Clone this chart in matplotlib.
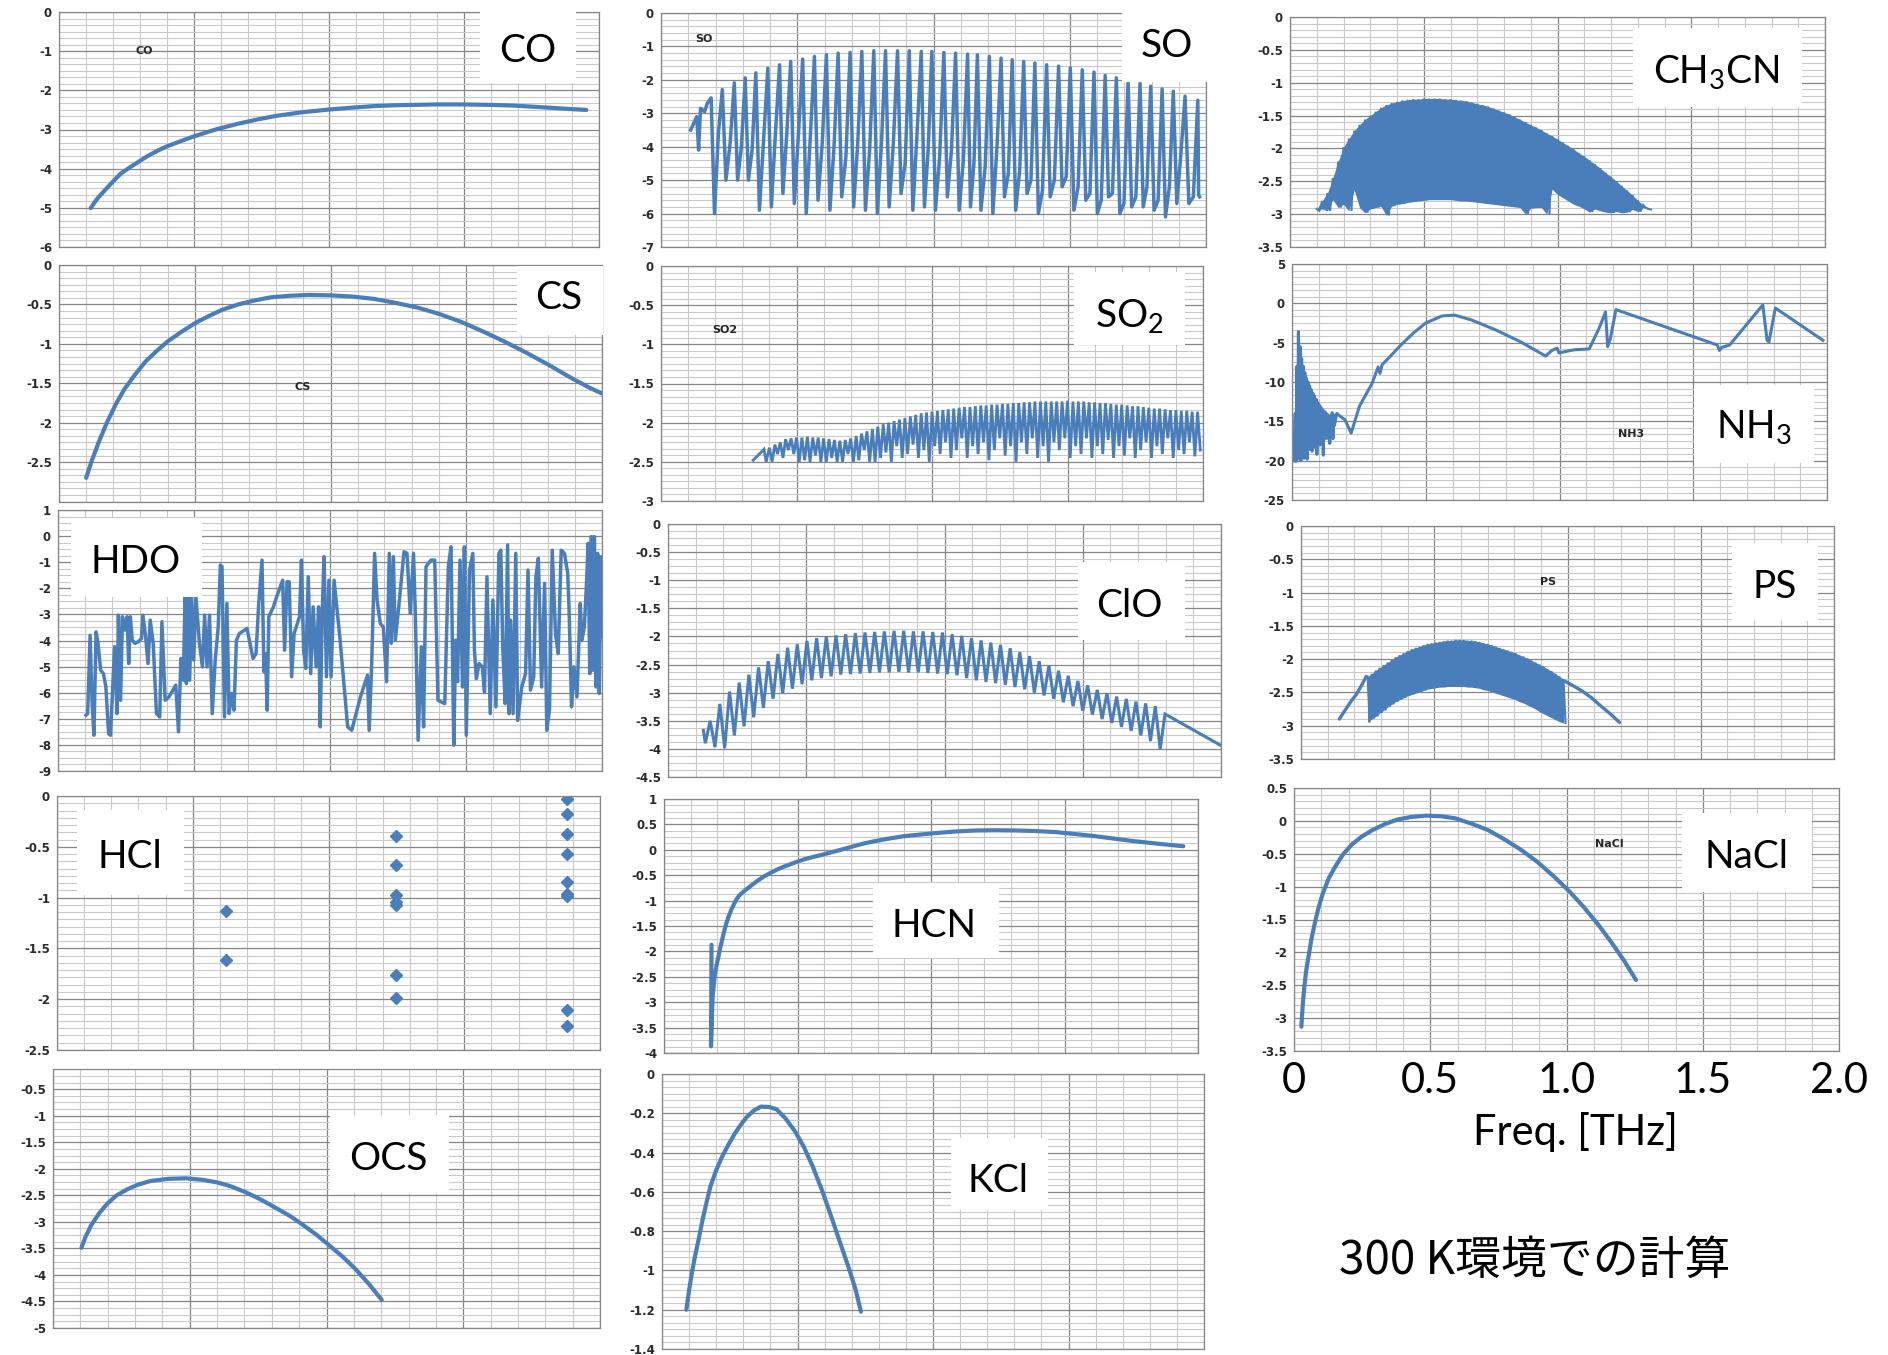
import matplotlib
matplotlib.use("Agg")
import matplotlib.pyplot as plt
from matplotlib.patches import Rectangle
from matplotlib.ticker import MultipleLocator, FuncFormatter, NullFormatter

plt.rcParams["mathtext.fontset"] = "custom"
plt.rcParams["mathtext.rm"] = "Lato"
plt.rcParams["mathtext.default"] = "regular"

W, H = 1888, 1355
BLUE = "#4a7ebb"
BIG_FONT = "Lato"

# ---------------- spectra: frequency [THz] vs log10 intensity ----------------
co_f = [0.117, 0.14, 0.17, 0.205, 0.23, 0.264, 0.30, 0.33, 0.36, 0.396, 0.45, 0.502,
        0.58, 0.659, 0.73, 0.806, 0.90, 1.00, 1.09, 1.172, 1.25, 1.319, 1.40, 1.495,
        1.59, 1.685, 1.76, 1.832, 1.90, 1.953]
co_v = [-5.01, -4.78, -4.55, -4.29, -4.12, -3.96, -3.80, -3.67, -3.56, -3.44, -3.30, -3.17,
        -3.00, -2.86, -2.75, -2.65, -2.56, -2.49, -2.44, -2.40, -2.38, -2.37, -2.36, -2.36,
        -2.37, -2.39, -2.42, -2.45, -2.48, -2.50]

cs_f = [0.10, 0.12, 0.146, 0.175, 0.21, 0.24, 0.28, 0.32, 0.36, 0.40, 0.45, 0.50, 0.55,
        0.60, 0.66, 0.72, 0.78, 0.85, 0.92, 1.00, 1.08, 1.16, 1.24, 1.32, 1.40, 1.48,
        1.56, 1.64, 1.72, 1.80, 1.88, 1.95, 2.0]
cs_v = [-2.70, -2.49, -2.25, -2.01, -1.76, -1.58, -1.39, -1.22, -1.09, -0.97, -0.85, -0.74,
        -0.65, -0.57, -0.50, -0.45, -0.41, -0.39, -0.38, -0.385, -0.40, -0.43, -0.48, -0.54,
        -0.62, -0.72, -0.84, -0.97, -1.11, -1.26, -1.42, -1.55, -1.63]

# SO: line peaks, the dip after each line and the shoulder before the next one
so_head_f = [0.109, 0.131, 0.138, 0.145, 0.160, 0.170]
so_head_v = [-3.5, -3.1, -4.1, -2.85, -2.95, -2.7]
so_peak_f = [0.184, 0.225, 0.269, 0.309, 0.348, 0.392, 0.435, 0.476, 0.520, 0.563,
             0.607, 0.650, 0.694, 0.737, 0.781, 0.824, 0.868, 0.911, 0.955, 0.994,
             1.038, 1.081, 1.125, 1.161, 1.205, 1.248, 1.289, 1.331, 1.372, 1.415,
             1.459, 1.502, 1.546, 1.589, 1.630, 1.671, 1.714, 1.758, 1.797, 1.839,
             1.880, 1.923, 1.970]
so_peak_v = [-2.54, -2.29, -2.09, -1.94, -1.79, -1.65, -1.55, -1.45, -1.38, -1.30,
             -1.25, -1.20, -1.18, -1.15, -1.13, -1.13, -1.13, -1.13, -1.15, -1.15,
             -1.18, -1.20, -1.23, -1.25, -1.30, -1.35, -1.40, -1.45, -1.50, -1.55,
             -1.59, -1.64, -1.70, -1.77, -1.87, -1.94, -2.04, -2.11, -2.19, -2.27,
             -2.34, -2.49, -2.61]
so_dip_v = [-6.0, -5.0, -5.0, -5.0, -5.9, -5.8, -5.4, -5.7, -6.0, -5.6,
            -5.9, -5.5, -5.8, -5.9, -6.0, -5.8, -5.4, -5.9, -5.8, -5.9,
            -5.5, -5.9, -5.8, -5.9, -6.0, -5.5, -5.9, -5.4, -6.0, -5.5,
            -5.2, -5.9, -5.6, -6.0, -5.5, -6.0, -5.8, -5.8, -5.9, -6.1,
            -5.7, -5.7, -5.45]
so_mid_v = [-3.6, -3.9, -4.0, -4.1, -3.8, -3.6, -3.6, -3.6, -3.7, -3.9,
            -4.0, -4.3, -3.9, -4.1, -3.9, -3.9, -4.5, -3.6, -4.1, -4.3,
            -4.1, -4.4, -4.5, -4.6, -4.0, -4.8, -4.7, -5.0, -5.3, -5.0,
            -4.9, -5.2, -5.4, -5.6, -5.4, -5.7, -5.5, -5.2, -5.6, -5.2,
            -4.2, -5.5, -5.5]

ch3cn_f = [0.10, 0.12, 0.14, 0.16, 0.18, 0.20, 0.22, 0.24, 0.26, 0.28, 0.30, 0.32,
           0.34, 0.36, 0.38, 0.40, 0.42, 0.44, 0.46, 0.48, 0.50, 0.52, 0.54, 0.56,
           0.58, 0.60, 0.62, 0.64, 0.66, 0.68, 0.70, 0.72, 0.74, 0.76, 0.78, 0.80,
           0.82, 0.84, 0.86, 0.88, 0.90, 0.92, 0.94, 0.96, 0.98, 1.00, 1.02, 1.04,
           1.06, 1.08, 1.10, 1.12, 1.14, 1.16, 1.18, 1.20, 1.22, 1.24, 1.26, 1.28,
           1.30, 1.32, 1.34]
ch3cn_hi = [-2.92, -2.80, -2.68, -2.45, -2.20, -1.98, -1.85, -1.73, -1.64, -1.56,
            -1.50, -1.44, -1.38, -1.34, -1.31, -1.29, -1.27, -1.26, -1.25, -1.25,
            -1.24, -1.24, -1.24, -1.24, -1.25, -1.25, -1.26, -1.27, -1.28, -1.30,
            -1.32, -1.34, -1.36, -1.39, -1.42, -1.45, -1.48, -1.52, -1.56, -1.60,
            -1.64, -1.68, -1.72, -1.77, -1.81, -1.86, -1.91, -1.96, -2.01, -2.07,
            -2.12, -2.18, -2.24, -2.30, -2.37, -2.43, -2.50, -2.57, -2.64, -2.71,
            -2.79, -2.86, -2.92]
ch3cn_lo = [-2.95, -2.92, -2.95, -2.78, -2.90, -2.85, -2.95, -2.63, -2.90, -2.98,
            -2.92, -2.90, -2.88, -3.02, -2.88, -2.85, -2.84, -2.82, -2.81, -2.80,
            -2.79, -2.78, -2.78, -2.78, -2.78, -2.78, -2.79, -2.80, -2.80, -2.81,
            -2.82, -2.83, -2.84, -2.85, -2.86, -2.87, -2.88, -2.89, -2.90, -3.00,
            -2.91, -2.90, -2.90, -3.00, -2.62, -2.70, -2.75, -2.80, -2.85, -2.88,
            -2.92, -2.97, -2.92, -2.95, -2.97, -2.98, -2.96, -2.98, -2.97, -2.93,
            -2.96, -2.90, -2.93]

so2_head_f = [0.340, 0.380, 0.388]
so2_head_v = [-2.48, -2.34, -2.50]
so2_f = [0.40, 0.42, 0.44, 0.46, 0.48, 0.50, 0.52, 0.54, 0.56, 0.58,
         0.60, 0.62, 0.64, 0.66, 0.68, 0.70, 0.72, 0.74, 0.76, 0.78,
         0.80, 0.82, 0.84, 0.86, 0.88, 0.90, 0.92, 0.94, 0.96, 0.98,
         1.00, 1.02, 1.04, 1.06, 1.08, 1.10, 1.12, 1.14, 1.16, 1.18,
         1.20, 1.22, 1.24, 1.26, 1.28, 1.30, 1.32, 1.34, 1.36, 1.38,
         1.40, 1.42, 1.44, 1.46, 1.48, 1.50, 1.52, 1.54, 1.56, 1.58,
         1.60, 1.62, 1.64, 1.66, 1.68, 1.70, 1.72, 1.74, 1.76, 1.78,
         1.80, 1.82, 1.84, 1.86, 1.88, 1.90, 1.92, 1.94, 1.96, 1.98]
so2_hi = [-2.32, -2.28, -2.25, -2.21, -2.20, -2.19, -2.19, -2.18, -2.19, -2.19,
          -2.20, -2.21, -2.22, -2.23, -2.22, -2.20, -2.17, -2.14, -2.11, -2.08,
          -2.05, -2.02, -2.00, -1.98, -1.96, -1.94, -1.92, -1.90, -1.88, -1.87,
          -1.86, -1.85, -1.84, -1.83, -1.82, -1.81, -1.80, -1.80, -1.79, -1.78,
          -1.78, -1.77, -1.77, -1.76, -1.76, -1.75, -1.75, -1.74, -1.74, -1.73,
          -1.73, -1.73, -1.73, -1.73, -1.73, -1.72, -1.73, -1.73, -1.73, -1.74,
          -1.74, -1.75, -1.75, -1.76, -1.77, -1.77, -1.78, -1.79, -1.79, -1.80,
          -1.81, -1.82, -1.82, -1.83, -1.84, -1.84, -1.85, -1.85, -1.86, -1.86]
so2_lo = [-2.50, -2.40, -2.45, -2.35, -2.40, -2.50, -2.48, -2.50, -2.42, -2.50,
          -2.50, -2.45, -2.50, -2.50, -2.40, -2.50, -2.48, -2.35, -2.50, -2.50,
          -2.45, -2.38, -2.50, -2.30, -2.45, -2.40, -2.28, -2.45, -2.35, -2.50,
          -2.30, -2.40, -2.25, -2.45, -2.35, -2.20, -2.45, -2.30, -2.40, -2.25,
          -2.48, -2.35, -2.20, -2.42, -2.30, -2.50, -2.25, -2.40, -2.20, -2.45,
          -2.30, -2.50, -2.25, -2.35, -2.20, -2.45, -2.30, -2.40, -2.20, -2.45,
          -2.30, -2.40, -2.22, -2.45, -2.30, -2.42, -2.20, -2.45, -2.35, -2.25,
          -2.45, -2.30, -2.40, -2.20, -2.45, -2.35, -2.40, -2.25, -2.43, -2.35]

nh3_start = (0.006, -20.0)
nh3_f = [0.012, 0.018, 0.024, 0.030, 0.036, 0.042, 0.048, 0.054, 0.060, 0.066,
         0.072, 0.078, 0.084, 0.090, 0.096, 0.102, 0.108, 0.114, 0.120, 0.126,
         0.132, 0.138, 0.144, 0.150, 0.156]
nh3_hi = [-14.0, -8.0, -3.6, -5.5, -7.0, -8.0, -8.8, -9.5, -10.0, -10.5,
          -11.0, -11.4, -11.8, -12.2, -12.6, -12.9, -13.2, -13.5, -13.7, -13.9,
          -14.1, -14.3, -14.4, -13.9, -14.2]
nh3_lo = [-20.1, -19.8, -19.6, -20.0, -19.3, -19.7, -18.9, -19.8, -18.6, -18.2,
          -18.8, -17.5, -18.3, -19.2, -17.0, -18.0, -16.8, -19.3, -16.4, -17.2,
          -16.0, -17.8, -15.8, -17.2, -15.5]
nh3_tail_f = [0.167, 0.182, 0.198, 0.221, 0.252, 0.299, 0.322, 0.329, 0.337, 0.360,
              0.407, 0.453, 0.500, 0.561, 0.608, 0.670, 0.763, 0.855, 0.948, 0.971,
              0.991, 0.998, 1.026, 1.056, 1.111, 1.149, 1.172, 1.180, 1.190, 1.211,
              1.590, 1.598, 1.606, 1.636, 1.760, 1.776, 1.783, 1.807, 1.985]
nh3_tail_v = [-14.0, -14.4, -14.8, -16.5, -13.1, -10.2, -8.1, -8.9, -7.8, -7.0,
              -5.3, -3.8, -2.5, -1.6, -1.5, -2.1, -3.4, -4.9, -6.7, -6.0,
              -5.7, -6.3, -6.1, -5.9, -5.8, -3.1, -1.1, -5.5, -4.5, -0.8,
              -5.3, -6.0, -5.6, -5.3, -0.2, -4.7, -4.9, -0.6, -4.7]

hdo_pts = [
    (0.103, -6.86), (0.109, -6.80), (0.118, -3.80), (0.125, -6.29), (0.132, -7.63),
    (0.140, -3.67), (0.147, -4.11), (0.157, -5.14), (0.167, -5.27), (0.176, -5.78),
    (0.186, -7.57), (0.193, -7.63), (0.208, -4.24), (0.217, -6.80), (0.222, -3.03),
    (0.230, -6.29), (0.237, -3.09), (0.246, -3.60), (0.254, -3.09), (0.260, -4.88),
    (0.266, -3.09), (0.273, -3.99), (0.283, -4.11), (0.295, -4.05), (0.307, -3.92),
    (0.312, -3.03), (0.321, -3.73), (0.331, -4.88), (0.339, -3.22), (0.350, -4.11),
    (0.362, -6.80), (0.374, -6.93), (0.382, -3.28), (0.394, -6.29), (0.408, -6.16),
    (0.433, -5.71), (0.443, -7.50), (0.452, -4.69), (0.461, -5.52), (0.467, -2.32),
    (0.472, -5.65), (0.478, -2.32), (0.484, -5.52), (0.491, -2.32), (0.499, -4.75),
    (0.507, -2.32), (0.520, -4.11), (0.531, -5.01), (0.539, -3.03), (0.548, -5.01),
    (0.557, -3.03), (0.567, -6.80), (0.578, -4.75), (0.589, -3.48), (0.597, -1.11),
    (0.603, -1.17), (0.612, -6.93), (0.621, -2.58), (0.629, -6.80), (0.638, -6.03),
    (0.647, -6.67), (0.656, -3.99), (0.667, -3.73), (0.695, -3.54), (0.717, -4.69),
    (0.728, -4.50), (0.738, -2.58), (0.750, -0.92), (0.757, -5.20), (0.763, -4.50),
    (0.769, -6.67), (0.775, -3.09), (0.792, -2.71), (0.804, -2.32), (0.826, -1.69),
    (0.833, -4.37), (0.842, -1.75), (0.850, -1.75), (0.859, -5.39), (0.868, -3.73),
    (0.888, -3.09), (0.895, -0.92), (0.903, -4.37), (0.911, -5.07), (0.920, -1.56),
    (0.929, -5.27), (0.938, -2.71), (0.949, -5.01), (0.958, -2.71), (0.964, -7.31),
    (0.971, -3.09), (0.978, -0.79), (0.987, -5.39), (0.996, -1.69), (1.004, -5.39),
    (1.015, -1.69), (1.036, -3.86), (1.065, -7.31), (1.080, -7.44), (1.112, -6.16),
    (1.138, -5.33), (1.144, -7.44), (1.153, -5.01), (1.164, -0.66), (1.173, -2.45),
    (1.185, -3.35), (1.196, -3.48), (1.208, -5.58), (1.218, -0.66), (1.225, -4.11),
    (1.233, -0.79), (1.240, -3.99), (1.254, -2.58), (1.272, -0.60), (1.283, -0.66),
    (1.295, -2.96), (1.307, -0.66), (1.313, -2.71), (1.324, -7.82), (1.336, -4.24),
    (1.344, -7.31), (1.353, -1.17), (1.371, -0.92), (1.385, -0.92), (1.397, -6.29),
    (1.422, -6.42), (1.435, -1.17), (1.445, -0.41), (1.455, -8.01), (1.462, -3.99),
    (1.469, -5.58), (1.478, -0.92), (1.487, -5.78), (1.494, -0.41), (1.501, -7.63),
    (1.513, -1.30), (1.525, -0.66), (1.531, -4.37), (1.538, -5.46), (1.548, -4.88),
    (1.560, -5.01), (1.568, -5.97), (1.577, -1.56), (1.589, -6.80), (1.599, -2.45),
    (1.610, -6.54), (1.621, -0.66), (1.628, -0.54), (1.635, -4.24), (1.644, -6.42),
    (1.653, -0.34), (1.658, -6.80), (1.664, -3.22), (1.673, -6.80), (1.683, -0.66),
    (1.690, -7.06), (1.705, -5.78), (1.719, -5.27), (1.728, -1.30), (1.737, -5.90),
    (1.749, -5.39), (1.757, -1.56), (1.766, -0.85), (1.778, -5.78), (1.789, -1.81),
    (1.797, -7.44), (1.807, -6.67), (1.817, -0.54), (1.829, -3.73), (1.839, -4.50),
    (1.850, -0.54), (1.862, -0.66), (1.874, -1.43), (1.879, -2.84), (1.888, -6.54),
    (1.897, -5.01), (1.908, -6.16), (1.920, -2.58), (1.926, -3.99), (1.935, -3.48),
    (1.943, -1.81), (1.949, -0.28), (1.955, -5.27), (1.961, -0.02), (1.967, -5.14),
    (1.972, -0.02), (1.978, -5.78), (1.984, -0.66), (1.990, -6.03), (1.996, -0.79),
    (2.000, -3.86)]

clo_start = (0.128, -3.67)
clo_end = (2.0, -3.94)
clo_trough_f = [0.135, 0.170, 0.205, 0.240, 0.275, 0.310, 0.345, 0.380, 0.415, 0.450,
                0.485, 0.520, 0.555, 0.590, 0.625, 0.660, 0.695, 0.730, 0.765, 0.800,
                0.835, 0.870, 0.905, 0.940, 0.975, 1.010, 1.045, 1.080, 1.115, 1.150,
                1.185, 1.220, 1.255, 1.290, 1.325, 1.360, 1.395, 1.430, 1.465, 1.500,
                1.535, 1.570, 1.605, 1.640, 1.675, 1.710, 1.745, 1.780]
clo_trough_v = [-3.90, -3.97, -3.99, -3.76, -3.60, -3.44, -3.27, -3.11, -3.01, -2.93,
                -2.85, -2.78, -2.74, -2.71, -2.68, -2.67, -2.66, -2.65, -2.64, -2.64,
                -2.63, -2.64, -2.64, -2.65, -2.66, -2.67, -2.69, -2.74, -2.78, -2.81,
                -2.83, -2.86, -2.90, -2.94, -3.00, -3.05, -3.11, -3.17, -3.24, -3.32,
                -3.39, -3.47, -3.54, -3.61, -3.68, -3.76, -3.86, -4.00]
clo_peak_v = [-3.50, -3.20, -2.98, -2.82, -2.68, -2.55, -2.44, -2.31, -2.20, -2.14,
              -2.08, -2.03, -2.00, -1.98, -1.96, -1.94, -1.93, -1.92, -1.91, -1.90,
              -1.90, -1.91, -1.91, -1.92, -1.93, -1.96, -1.99, -2.03, -2.07, -2.11,
              -2.15, -2.21, -2.28, -2.35, -2.44, -2.52, -2.61, -2.70, -2.79, -2.87,
              -2.95, -3.01, -3.07, -3.11, -3.16, -3.19, -3.24, -3.38]

ps_head_f = [0.144, 0.160, 0.175, 0.190, 0.206, 0.225, 0.245]
ps_head_v = [-2.90, -2.80, -2.71, -2.62, -2.54, -2.41, -2.26]
ps_f = [0.250, 0.265, 0.280, 0.295, 0.310, 0.325, 0.340, 0.355, 0.370, 0.385,
        0.400, 0.415, 0.430, 0.445, 0.460, 0.475, 0.490, 0.505, 0.520, 0.535,
        0.550, 0.565, 0.580, 0.595, 0.610, 0.625, 0.640, 0.655, 0.670, 0.685,
        0.700, 0.715, 0.730, 0.745, 0.760, 0.775, 0.790, 0.805, 0.820, 0.835,
        0.850, 0.865, 0.880, 0.895, 0.910, 0.925, 0.940, 0.955, 0.970, 0.985]
ps_hi = [-2.26, -2.22, -2.17, -2.13, -2.09, -2.05, -2.01, -1.97, -1.94, -1.91,
         -1.88, -1.85, -1.83, -1.81, -1.79, -1.77, -1.76, -1.75, -1.74, -1.73,
         -1.72, -1.72, -1.71, -1.71, -1.71, -1.72, -1.72, -1.73, -1.74, -1.76,
         -1.77, -1.79, -1.81, -1.83, -1.85, -1.87, -1.89, -1.91, -1.94, -1.96,
         -1.99, -2.02, -2.05, -2.08, -2.11, -2.15, -2.18, -2.22, -2.26, -2.30]
ps_lo = [-2.95, -2.90, -2.86, -2.81, -2.77, -2.72, -2.68, -2.64, -2.61, -2.58,
         -2.55, -2.53, -2.51, -2.49, -2.47, -2.45, -2.44, -2.43, -2.42, -2.42,
         -2.41, -2.41, -2.41, -2.41, -2.41, -2.42, -2.42, -2.43, -2.44, -2.46,
         -2.47, -2.49, -2.51, -2.53, -2.55, -2.57, -2.59, -2.61, -2.64, -2.66,
         -2.69, -2.72, -2.75, -2.79, -2.82, -2.85, -2.88, -2.91, -2.94, -2.96]
ps_tail_f = [0.990, 1.030, 1.059, 1.090, 1.121, 1.160, 1.195]
ps_tail_v = [-2.33, -2.42, -2.49, -2.58, -2.69, -2.82, -2.95]

hcl_f = [0.624, 0.624,
         1.249, 1.249, 1.249, 1.249, 1.249, 1.249, 1.249,
         1.877, 1.877, 1.877, 1.877, 1.877, 1.877, 1.877, 1.877, 1.877]
hcl_v = [-1.13, -1.61,
         -0.39, -0.675, -0.97, -1.04, -1.07, -1.76, -1.99,
         -0.03, -0.18, -0.37, -0.57, -0.85, -0.96, -0.98, -2.11, -2.26]

hcn_f = [0.178, 0.176, 0.182, 0.190, 0.197, 0.204, 0.212, 0.220, 0.227, 0.234,
         0.243, 0.252, 0.262, 0.271, 0.280, 0.290, 0.308, 0.330, 0.350, 0.373,
         0.397, 0.423, 0.450, 0.475, 0.501, 0.530, 0.560, 0.590, 0.619, 0.655,
         0.690, 0.720, 0.753, 0.790, 0.830, 0.865, 0.901, 0.960, 1.019, 1.090,
         1.167, 1.240, 1.316, 1.390, 1.464, 1.540, 1.612, 1.686, 1.760, 1.850, 1.945]
hcn_v = [-1.87, -3.87, -2.90, -2.48, -2.27, -2.10, -1.90, -1.72, -1.57, -1.44,
         -1.30, -1.18, -1.07, -0.98, -0.91, -0.86, -0.78, -0.69, -0.61, -0.53,
         -0.46, -0.39, -0.33, -0.28, -0.23, -0.18, -0.14, -0.10, -0.06, -0.01,
         0.04, 0.085, 0.13, 0.17, 0.21, 0.24, 0.27, 0.30, 0.33, 0.36,
         0.38, 0.385, 0.38, 0.37, 0.35, 0.31, 0.27, 0.22, 0.17, 0.12, 0.07]

nacl_f = [0.027, 0.032, 0.038, 0.045, 0.053, 0.064, 0.076, 0.090, 0.106, 0.128,
          0.152, 0.180, 0.212, 0.248, 0.288, 0.333, 0.379, 0.430, 0.485, 0.540,
          0.591, 0.650, 0.712, 0.772, 0.833, 0.895, 0.955, 1.010, 1.061, 1.115,
          1.167, 1.212, 1.255]
nacl_v = [-3.13, -2.80, -2.52, -2.27, -2.07, -1.80, -1.56, -1.32, -1.10, -0.87,
          -0.69, -0.51, -0.36, -0.24, -0.14, -0.05, 0.02, 0.06, 0.08, 0.07,
          0.04, -0.04, -0.14, -0.28, -0.44, -0.63, -0.85, -1.07, -1.30, -1.57,
          -1.86, -2.13, -2.42]

ocs_f = [0.104, 0.12, 0.14, 0.17, 0.198, 0.23, 0.27, 0.31, 0.357, 0.42, 0.487, 0.55,
         0.603, 0.65, 0.704, 0.76, 0.819, 0.87, 0.92, 0.965, 1.007, 1.06, 1.108, 1.155,
         1.202]
ocs_v = [-3.49, -3.27, -3.06, -2.83, -2.66, -2.51, -2.39, -2.30, -2.23, -2.19, -2.18, -2.21,
         -2.26, -2.33, -2.44, -2.58, -2.75, -2.90, -3.08, -3.25, -3.43, -3.66, -3.90, -4.17,
         -4.47]

kcl_f = [0.090, 0.100, 0.112, 0.123, 0.134, 0.150, 0.165, 0.179, 0.200, 0.222,
         0.245, 0.270, 0.290, 0.312, 0.340, 0.365, 0.395, 0.423, 0.455, 0.490,
         0.523, 0.556, 0.590, 0.623, 0.655, 0.690, 0.715, 0.734]
kcl_v = [-1.20, -1.10, -1.00, -0.92, -0.85, -0.74, -0.65, -0.57, -0.49, -0.42,
         -0.36, -0.30, -0.26, -0.22, -0.185, -0.166, -0.168, -0.18, -0.225, -0.29,
         -0.37, -0.47, -0.59, -0.72, -0.85, -0.99, -1.10, -1.21]

freq_ticks = [0, 0.5, 1.0, 1.5, 2.0]
freq_tick_labels = ["0", "0.5", "1.0", "1.5", "2.0"]


# ---------------- helpers ----------------
def teeth(f, first, second):
    """Alternate each value at f[i] with the partner value half-way to the next line."""
    xs, ys = [], []
    for i, (a, b) in enumerate(zip(first, second, strict=True)):
        gap = f[i + 1] - f[i] if i < len(f) - 1 else f[i] - f[i - 1]
        xs += [f[i], f[i] + gap / 2]
        ys += [a, b]
    return xs, ys


def so_path(f, hi, dip, mid):
    xs, ys = [], []
    for i, (p, d, m) in enumerate(zip(hi, dip, mid, strict=True)):
        gap = f[i + 1] - f[i] if i < len(f) - 1 else 0.01
        xs += [f[i], f[i] + 0.3 * gap, f[i] + 0.65 * gap]
        ys += [p, d, m]
    return xs, ys


def ylabel_fmt(hidden):
    hidden = [round(h, 6) for h in hidden]

    def fmt(v, _pos):
        v = round(v, 6)
        if v in hidden:
            return ""
        if v == 0:
            return "0"
        return "%g" % v
    return FuncFormatter(fmt)


fig = plt.figure(figsize=(W / 100, H / 100), dpi=100)
fig.patch.set_facecolor("white")


def panel(box, ylim, ystep, hidden=()):
    l, t, r, b = box
    ax = fig.add_axes([l / W, 1 - b / H, (r - l) / W, (b - t) / H])
    ax.set_xlim(0, 2)
    ax.set_ylim(*ylim)
    px_major = (b - t) * ystep / (ylim[1] - ylim[0])
    nsub = max(2, round(px_major / 7.0))
    ax.xaxis.set_major_locator(MultipleLocator(0.5))
    ax.xaxis.set_minor_locator(MultipleLocator(0.1))
    ax.yaxis.set_major_locator(MultipleLocator(ystep))
    ax.yaxis.set_minor_locator(MultipleLocator(ystep / nsub))
    ax.grid(which="minor", color="#c9c9c9", lw=0.8)
    ax.grid(which="major", color="#868686", lw=0.9)
    ax.set_axisbelow(True)
    ax.tick_params(which="both", length=0)
    ax.tick_params(axis="y", pad=5)
    for lab in ax.get_yticklabels():
        pass
    ax.yaxis.set_tick_params(labelsize=8.5, labelcolor="#2a2a2a")
    ax.xaxis.set_major_formatter(NullFormatter())
    ax.yaxis.set_major_formatter(ylabel_fmt(hidden))
    for lab in ax.yaxis.get_majorticklabels():
        lab.set_fontweight("bold")
    for s in ax.spines.values():
        s.set_color("#868686")
        s.set_linewidth(0.9)
    return ax


def name_box(box, text, cx, baseline, size=28):
    x0, y0, x1, y1 = box
    fig.add_artist(Rectangle((x0 / W, 1 - y1 / H), (x1 - x0) / W, (y1 - y0) / H,
                             transform=fig.transFigure, facecolor="white",
                             edgecolor="none", zorder=5))
    fig.text(cx / W, 1 - baseline / H, text, ha="center", va="baseline",
             fontsize=size, family=BIG_FONT, color="black", zorder=6)


def tag(x, y, text):
    fig.text(x / W, 1 - y / H, text, ha="center", va="center", fontsize=8,
             fontweight="bold", family="DejaVu Sans", color="#262626", zorder=4)


smooth = dict(color=BLUE, lw=3.0, solid_joinstyle="round", solid_capstyle="round")
spiky = dict(color=BLUE, lw=2.5, solid_joinstyle="round")
dense = dict(color=BLUE, lw=1.5, solid_joinstyle="miter")

# ---------------- column 1 ----------------
ax = panel((59, 12, 599, 247), (-6, 0), 1)
ax.plot(co_f, co_v, **smooth)

ax = panel((59, 265, 602, 501.5), (-3, 0), 0.5, hidden=(-3,))
ax.plot(cs_f, cs_v, **smooth)

ax = panel((58, 510, 602, 771), (-9, 1), 1)
hdo_f, hdo_v = zip(*hdo_pts)
ax.plot(hdo_f, hdo_v, **spiky)

ax = panel((57, 796, 600, 1050), (-2.5, 0), 0.5)
ax.plot(hcl_f, hcl_v, ls="none", marker="D", ms=6, color=BLUE, mec=BLUE)

ax = panel((53, 1069, 600, 1328), (-5, -0.12), 0.5)
ax.plot(ocs_f, ocs_v, **smooth)

# ---------------- column 2 ----------------
ax = panel((661, 13, 1206, 247), (-7, 0), 1)
xs, ys = so_path(so_peak_f, so_peak_v, so_dip_v, so_mid_v)
ax.plot(so_head_f + xs, so_head_v + ys, **spiky)

ax = panel((661, 266, 1203, 501), (-3, 0), 0.5)
xs, ys = teeth(so2_f, so2_hi, so2_lo)
ax.plot(so2_head_f + xs, so2_head_v + ys, color=BLUE, lw=2.0, solid_joinstyle="miter")

ax = panel((668, 524, 1221, 777), (-4.5, 0), 0.5)
xs, ys = teeth(clo_trough_f, clo_trough_v, clo_peak_v)
ax.plot([clo_start[0]] + xs + [clo_end[0]], [clo_start[1]] + ys + [clo_end[1]],
        color=BLUE, lw=2.2, solid_joinstyle="miter")

ax = panel((664, 799, 1198, 1053), (-4, 1), 0.5)
ax.plot(hcn_f, hcn_v, **smooth)

ax = panel((662, 1074, 1204, 1349), (-1.4, 0), 0.2)
ax.plot(kcl_f, kcl_v, **smooth)

# ---------------- column 3 ----------------
ax = panel((1290, 17, 1825, 247), (-3.5, 0), 0.5)
ax.fill_between(ch3cn_f, ch3cn_lo, ch3cn_hi, color=BLUE, lw=0)
xs, ys = teeth(ch3cn_f, ch3cn_hi, ch3cn_lo)
ax.plot(xs, ys, **dense)

ax = panel((1292, 264, 1827, 500), (-25, 5), 5)
xs, ys = teeth(nh3_f, nh3_hi, nh3_lo)
ax.plot([nh3_start[0]] + xs + nh3_tail_f, [nh3_start[1]] + ys + nh3_tail_v,
        color=BLUE, lw=2.2, solid_joinstyle="round")

ax = panel((1301, 526, 1834, 759), (-3.5, 0), 0.5)
ax.fill_between(ps_f, ps_lo, ps_hi, color=BLUE, lw=0)
xs, ys = teeth(ps_f, ps_hi, ps_lo)
ax.plot(xs, ys, **dense)
ax.plot(ps_head_f, ps_head_v, color=BLUE, lw=2.4, solid_capstyle="round")
ax.plot(ps_tail_f, ps_tail_v, color=BLUE, lw=2.4, solid_capstyle="round")

ax = panel((1294, 788, 1839, 1051), (-3.5, 0.5), 0.5)
ax.plot(nacl_f, nacl_v, **smooth)
ax.set_xticks(freq_ticks)
ax.set_xticklabels(freq_tick_labels, fontsize=30, family=BIG_FONT, color="black")
ax.tick_params(axis="x", pad=8)

fig.text(1575 / W, 1 - 1145 / H, "Freq. [THz]", ha="center", va="baseline",
         fontsize=30, family=BIG_FONT, color="black")
fig.text(1339 / W, 1 - 1274 / H, "300 K環境での計算", ha="left", va="baseline",
         fontsize=33, family=["Noto Sans CJK JP", "DejaVu Sans"], color="black")

# ---------------- molecule names ----------------
name_box((480, 10, 576, 83), "CO", 528, 62)
name_box((1122, 0, 1209, 82), "SO", 1167, 57)
name_box((1633, 28, 1802, 107), "CH$_3$CN", 1716, 83)
name_box((517, 266, 603, 335), "CS", 559, 309)
name_box((1074, 272, 1185, 345), "SO$_2$", 1129, 327)
name_box((1694, 385, 1814, 463), "NH$_3$", 1754, 438)
name_box((71, 518, 202, 597), "HDO", 136, 573)
name_box((1078, 562, 1185, 640), "ClO", 1129, 617)
name_box((1732, 543, 1818, 621), "PS", 1775, 598)
name_box((77, 810, 184, 895), "HCl", 130, 868)
name_box((873, 883, 999, 958), "HCN", 934, 937)
name_box((1682, 813, 1812, 892), "NaCl", 1747, 868)
name_box((330, 1115, 449, 1193), "OCS", 388, 1170)
name_box((951, 1138, 1048, 1210), "KCl", 998, 1192)

# small chart titles
tag(144, 51, "CO")
tag(704, 39, "SO")
tag(725, 330, "SO2")
tag(303, 387, "CS")
tag(1631, 434, "NH3")
tag(1548, 582, "PS")
tag(1609, 844, "NaCl")

fig.savefig("out.png", dpi=100, facecolor="white")
